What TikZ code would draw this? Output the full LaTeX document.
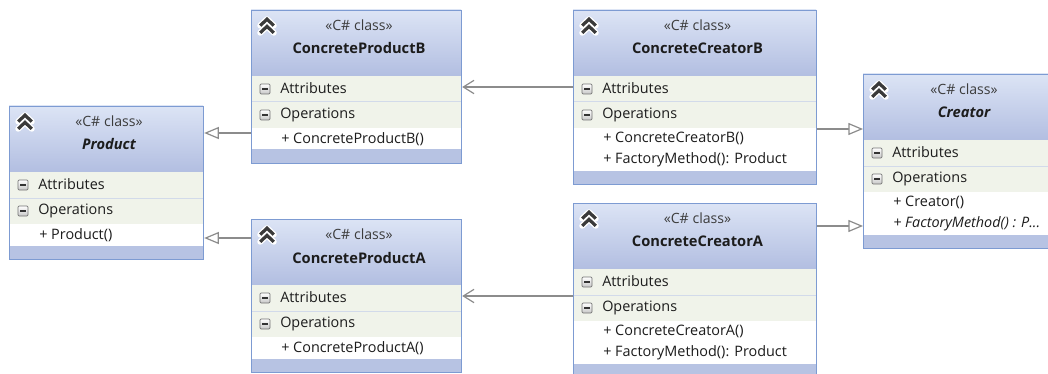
\documentclass[tikz,border=0pt]{standalone}
\usepackage{fontspec}
\setmainfont{Open Sans}
\usetikzlibrary{arrows.meta}
\definecolor{border}{RGB}{125,155,210}
\definecolor{hdtop}{RGB}{220,228,245}
\definecolor{hdbot}{RGB}{178,190,225}
\definecolor{rowbg}{RGB}{240,243,234}
\definecolor{sepc}{RGB}{210,218,234}
\definecolor{barbg}{RGB}{183,195,227}
\definecolor{conn}{RGB}{140,140,140}
\definecolor{txt}{RGB}{28,28,28}
\definecolor{stereoc}{RGB}{60,60,60}
\definecolor{chevc}{RGB}{58,58,58}

\tikzset{
  classframe/.style={draw=border, line width=0.9pt, inner sep=0pt, anchor=north west, fill=none},
  stereotxt/.style={inner sep=0pt, text=stereoc, font=\fontsize{10.6}{12}\selectfont},
  nametxt/.style={inner sep=0pt, text=txt, font=\fontsize{11}{13}\selectfont\bfseries},
  rowtxt/.style={inner sep=0pt, anchor=west, text=txt, font=\fontsize{10.8}{12}\selectfont},
  gen/.style={draw=conn, line width=0.9pt, -{Triangle[open, length=11pt, width=9pt, fill=white]}},
  assoc/.style={draw=conn, line width=0.9pt, -{Straight Barb[length=8pt, width=10pt]}}
}

\newcommand{\chevicon}[2]{%
  \foreach \dy in {-3.6,3.6} {
    \draw[white, line width=4.4pt, line cap=round, line join=round]
      (#1-6.8,#2+\dy+3.2) -- (#1,#2+\dy-3.2) -- (#1+6.8,#2+\dy+3.2);
  }
  \foreach \dy in {-3.6,3.6} {
    \draw[chevc, line width=2.4pt, line join=miter]
      (#1-6.8,#2+\dy+3.2) -- (#1,#2+\dy-3.2) -- (#1+6.8,#2+\dy+3.2);
  }
}

\newcommand{\minusicon}[2]{%
  \shade[top color=white, bottom color=black!22, draw=black!55, line width=0.55pt, rounded corners=0.9pt]
    (#1-5,#2-5) rectangle (#1+5,#2+5);
  \draw[line width=1.2pt, black!80] (#1-3,#2) -- (#1+3,#2);
}

\newcommand{\umlclass}[7]{%
  \pgfmathsetmacro{\ucX}{#2}%
  \pgfmathsetmacro{\ucY}{#3}%
  \pgfmathsetmacro{\ucR}{#2+#4}%
  \pgfmathsetmacro{\ucH}{#3+66}%
  \pgfmathsetmacro{\ucA}{#3+92}%
  \pgfmathsetmacro{\ucO}{#3+118}%
  \pgfmathsetmacro{\ucM}{#3+118+21.5*#5}%
  \pgfmathsetmacro{\ucB}{#3+131+21.5*#5}%
  \pgfmathsetmacro{\ucC}{#2+#4/2+3}%
  \pgfmathsetmacro{\ucWpt}{#4*0.75}%
  \pgfmathsetmacro{\ucHpt}{(131+21.5*#5)*0.75}%
  \shade[top color=hdtop, bottom color=hdbot] (\ucX,\ucY) rectangle (\ucR,\ucH);
  \fill[rowbg] (\ucX,\ucH) rectangle (\ucR,\ucO);
  \draw[sepc, line width=0.75pt] (\ucX,\ucA) -- (\ucR,\ucA);
  \fill[white] (\ucX,\ucO) rectangle (\ucR,\ucM);
  \fill[barbg] (\ucX,\ucM) rectangle (\ucR,\ucB);
  \node[classframe, minimum width=\ucWpt pt, minimum height=\ucHpt pt] (#1) at (\ucX,\ucY) {};
  \chevicon{\ucX+16}{\ucY+16}
  \node[stereotxt] (#1-st) at (\ucC,\ucY+15) {«C\# class»};
  \node[nametxt] (#1-nm) at (\ucC,\ucY+38.5) {#6};
  \minusicon{\ucX+14}{\ucH+13}
  \node[rowtxt] (#1-at) at (\ucX+29,\ucH+12.5) {Attributes};
  \minusicon{\ucX+14}{\ucA+13}
  \node[rowtxt] (#1-op) at (\ucX+29,\ucA+12.5) {Operations};
  \foreach \m [count=\i] in {#7} {
    \node[rowtxt] (#1-m\i) at (\ucX+30,\ucO+10.75+21.5*\i-21.5) {\m};
  }
}

\begin{document}
\begin{tikzpicture}[x=0.75pt, y=-0.75pt]
  \useasboundingbox (0,0) rectangle (1048,374);
  \fill[white] (0,0) rectangle (1048,374);
  \clip (0,0) rectangle (1048,374);

  \umlclass{prod}{9}{106}{194}{1}{\itshape Product}{+ Product()}
  \umlclass{cpb}{251}{10}{210}{1}{ConcreteProductB}{+ ConcreteProductB()}
  \umlclass{cpa}{251}{219}{210}{1}{ConcreteProductA}{+ ConcreteProductA()}
  \umlclass{ccb}{573}{10}{243}{2}{ConcreteCreatorB}{+ ConcreteCreatorB(), + FactoryMethod(): Product}
  \umlclass{cca}{573}{203}{243}{2}{ConcreteCreatorA}{+ ConcreteCreatorA(), + FactoryMethod(): Product}
  \umlclass{cr}{863}{74}{196}{2}{\itshape Creator}{+ Creator(), {\itshape + FactoryMethod() : P.{}.{}.}}

  \draw[gen] (cpb.west |- 0,133) -- (prod.east |- 0,133);
  \draw[gen] (cpa.west |- 0,238) -- (prod.east |- 0,238);
  \draw[assoc] (ccb.west |- 0,87) -- (cpb.east |- 0,87);
  \draw[assoc] (cca.west |- 0,296) -- (cpa.east |- 0,296);
  \draw[gen] (ccb.east |- 0,129) -- (cr.west |- 0,129);
  \draw[gen] (cca.east |- 0,226) -- (cr.west |- 0,226);
\end{tikzpicture}
\end{document}
